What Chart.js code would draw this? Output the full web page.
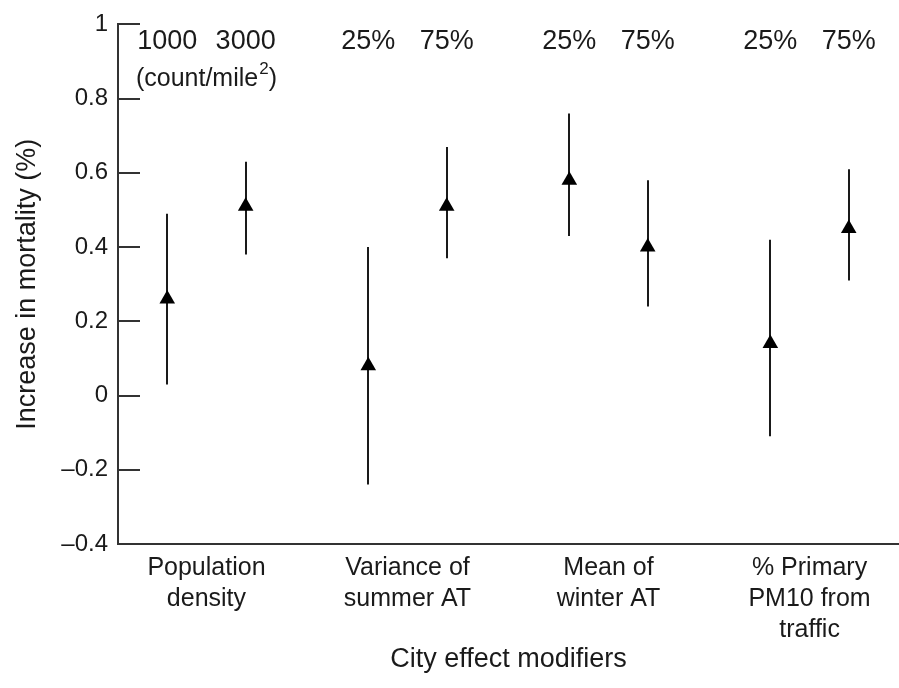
<!DOCTYPE html>
<html>
<head>
<meta charset="utf-8">
<script src="https://cdn.jsdelivr.net/npm/chart.js@4/dist/chart.umd.min.js"></script>
<style>
  html, body { margin: 0; padding: 0; background: #fff; }
  #wrap { width: 899px; height: 688px; }
</style>
</head>
<body>
<div id="wrap"><canvas id="c" width="899" height="688"></canvas></div>
<script>
// City effect modifiers (x categories), each split into two levels
const modifiers = [
  ['Population', 'density'],
  ['Variance of', 'summer AT'],
  ['Mean of', 'winter AT'],
  ['% Primary', 'PM10 from', 'traffic']
];
const levelLabels = ['1000', '3000', '25%', '75%', '25%', '75%', '25%', '75%'];
const levelGroup  = [1, 1, 2, 2, 3, 3, 4, 4];
const levelSide   = [-1, 1, -1, 1, -1, 1, -1, 1];
const densityUnit = ['(count/mile', '2', ')'];

// Increase in mortality (%) with confidence limits
const estimate = [0.26, 0.51, 0.08, 0.51, 0.58, 0.40, 0.14, 0.45];
const lower    = [0.03, 0.38, -0.24, 0.37, 0.43, 0.24, -0.11, 0.31];
const upper    = [0.49, 0.63, 0.40, 0.67, 0.76, 0.58, 0.42, 0.61];

const yTicks = [-0.4, -0.2, 0, 0.2, 0.4, 0.6, 0.8, 1];
const yTickLabels = ['\u20130.4', '\u20130.2', '0', '0.2', '0.4', '0.6', '0.8', '1'];

const FONT = '"Liberation Sans", Arial, sans-serif';
const INK = '#1a1a1a';
const PAIR_OFFSET = 0.195;

const xOf = i => levelGroup[i] + levelSide[i] * PAIR_OFFSET;

// vertical confidence-interval lines under each marker
const errorBars = {
  id: 'errorBars',
  beforeDatasetsDraw(chart) {
    const { ctx, scales: { x, y } } = chart;
    ctx.save();
    ctx.strokeStyle = INK;
    ctx.lineWidth = 2;
    estimate.forEach((_, i) => {
      const px = Math.round(x.getPixelForValue(xOf(i)));
      ctx.beginPath();
      ctx.moveTo(px, y.getPixelForValue(lower[i]));
      ctx.lineTo(px, y.getPixelForValue(upper[i]));
      ctx.stroke();
    });
    ctx.restore();
  }
};

// inward tick marks on the y axis, plus level labels above the plot
const decorations = {
  id: 'decorations',
  afterDraw(chart) {
    const { ctx, chartArea, scales: { x, y } } = chart;
    ctx.save();
    ctx.strokeStyle = '#333';
    ctx.lineWidth = 2;
    yTicks.forEach(v => {
      const py = Math.round(y.getPixelForValue(v));
      ctx.beginPath();
      ctx.moveTo(chartArea.left - 1, py);
      ctx.lineTo(chartArea.left + 22, py);
      ctx.stroke();
    });
    ctx.fillStyle = INK;
    ctx.textAlign = 'center';
    ctx.textBaseline = 'alphabetic';
    ctx.font = '27px ' + FONT;
    levelLabels.forEach((t, i) => {
      ctx.fillText(t, x.getPixelForValue(xOf(i)), 49);
    });

    // unit line with a raised exponent
    const bigFont = '25px ' + FONT, supFont = '17px ' + FONT;
    ctx.font = bigFont;
    const w0 = ctx.measureText(densityUnit[0]).width;
    const w2 = ctx.measureText(densityUnit[2]).width;
    ctx.font = supFont;
    const w1 = ctx.measureText(densityUnit[1]).width + 1;
    let left = x.getPixelForValue(1) - (w0 + w1 + w2) / 2;
    ctx.textAlign = 'left';
    ctx.font = bigFont;
    ctx.fillText(densityUnit[0], left, 86);
    ctx.font = supFont;
    ctx.fillText(densityUnit[1], left + w0 + 1, 74);
    ctx.font = bigFont;
    ctx.fillText(densityUnit[2], left + w0 + w1, 86);
    ctx.restore();
  }
};

new Chart(document.getElementById('c'), {
  type: 'scatter',
  data: {
    datasets: [{
      data: estimate.map((v, i) => ({ x: xOf(i), y: v })),
      pointStyle: 'triangle',
      pointRadius: 9,
      pointHoverRadius: 9,
      backgroundColor: '#000',
      borderColor: '#000',
      borderWidth: 0
    }]
  },
  options: {
    responsive: false,
    animation: false,
    events: [],
    layout: { autoPadding: false, padding: { top: 22, right: 0, bottom: 0, left: 0 } },
    plugins: { legend: { display: false }, tooltip: { enabled: false } },
    scales: {
      x: {
        type: 'linear',
        min: 0.56,
        max: 4.445,
        afterBuildTicks: s => { s.ticks = modifiers.map((_, i) => ({ value: i + 1 })); },
        afterFit: s => { s.height = 144; s.paddingLeft = 0; s.paddingRight = 0; },
        grid: { display: false, drawTicks: false },
        border: { display: true, color: '#333', width: 2 },
        ticks: {
          autoSkip: false,
          maxRotation: 0,
          padding: 8,
          color: INK,
          font: { family: FONT, size: 25, lineHeight: 1.25 },
          callback: (v, idx) => modifiers[idx]
        },
        title: {
          display: true,
          text: 'City effect modifiers',
          color: INK,
          font: { family: FONT, size: 27 },
          padding: { top: 0, bottom: 12 }
        }
      },
      y: {
        min: -0.4,
        max: 1,
        afterBuildTicks: s => { s.ticks = yTicks.map(v => ({ value: v })); },
        afterFit: s => { s.width = 118; },
        grid: { display: false, drawTicks: false },
        border: { display: true, color: '#333', width: 2 },
        ticks: {
          padding: 10,
          color: INK,
          font: { family: FONT, size: 24 },
          callback: (v, idx) => yTickLabels[idx]
        },
        title: {
          display: true,
          text: 'Increase in mortality (%)',
          color: INK,
          font: { family: FONT, size: 27 },
          padding: { top: 11, bottom: 0 }
        }
      }
    }
  },
  plugins: [errorBars, decorations]
});
</script>
</body>
</html>
